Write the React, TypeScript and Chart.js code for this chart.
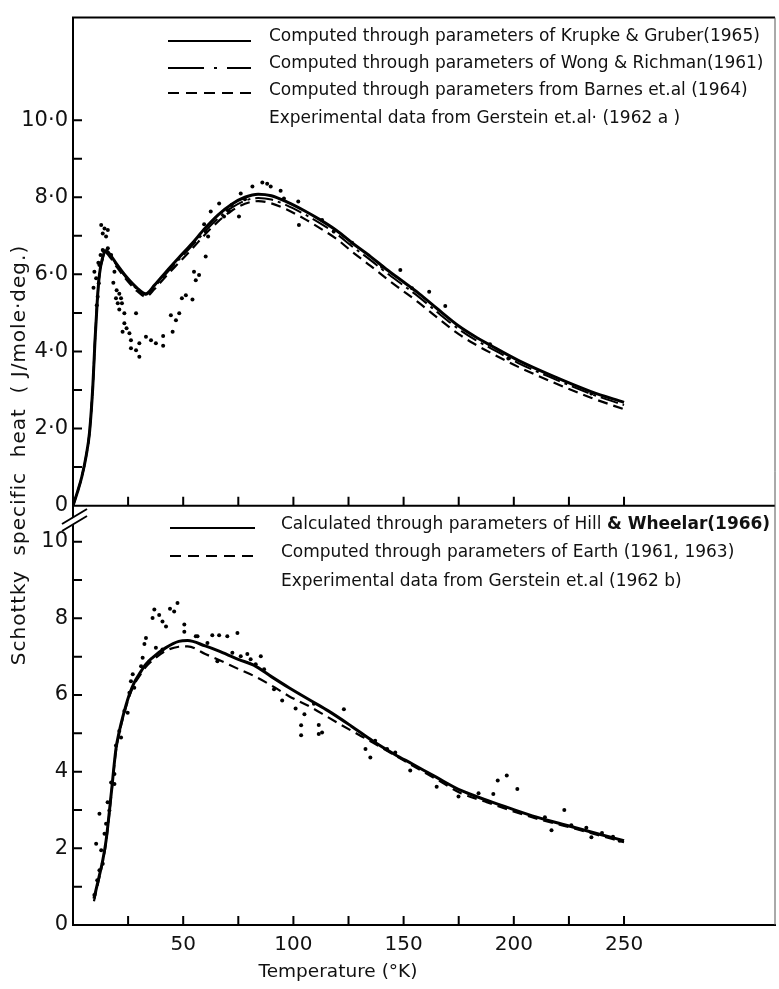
import React, { useEffect, useRef } from 'react';
import Chart from 'chart.js/auto';

// ---- Top panel (Gerstein 1962a fits) ----
const topCurveT = [0, 2, 4, 6, 7.5, 9, 10, 11, 12, 13.5, 15, 17, 20, 24, 29, 33, 37, 42, 48, 54, 60, 66, 72, 78, 84, 90, 97, 105, 112, 120, 127, 135, 142, 150, 157, 165, 175, 182, 190, 202, 217, 235, 250];
const krupkeGruber = [0, 0.35, 0.75, 1.3, 1.9, 3.1, 4.3, 5.3, 6.0, 6.45, 6.62, 6.5, 6.25, 5.95, 5.65, 5.5, 5.72, 6.05, 6.43, 6.8, 7.2, 7.55, 7.82, 8.0, 8.08, 8.04, 7.88, 7.65, 7.42, 7.12, 6.8, 6.46, 6.14, 5.8, 5.5, 5.12, 4.66, 4.4, 4.14, 3.77, 3.38, 2.96, 2.68];
const wongRichman = [0, 0.35, 0.75, 1.3, 1.9, 3.1, 4.3, 5.3, 6.0, 6.42, 6.58, 6.47, 6.22, 5.92, 5.62, 5.47, 5.68, 6.0, 6.38, 6.74, 7.12, 7.46, 7.73, 7.91, 7.98, 7.94, 7.79, 7.56, 7.33, 7.03, 6.71, 6.37, 6.05, 5.71, 5.41, 5.03, 4.58, 4.32, 4.07, 3.7, 3.32, 2.9, 2.61];
const barnes = [0, 0.35, 0.75, 1.3, 1.9, 3.1, 4.3, 5.3, 6.0, 6.4, 6.55, 6.43, 6.18, 5.88, 5.57, 5.42, 5.62, 5.94, 6.3, 6.66, 7.04, 7.38, 7.65, 7.83, 7.9, 7.84, 7.68, 7.44, 7.2, 6.9, 6.57, 6.22, 5.9, 5.56, 5.26, 4.89, 4.45, 4.2, 3.95, 3.6, 3.22, 2.8, 2.5];

const gerATemp = [9.3, 9.7, 10.5, 10.8, 11.2, 11.5, 11.7, 12, 12.5, 12.8, 13.5, 14.3, 15, 15.8, 13.5, 14, 15.8, 17.3, 18.8, 18.3, 19.8, 19.5, 21, 21.8, 20.3, 22.2, 21, 23.3, 23.3, 24.3, 22.5, 25.6, 26.3, 28.6, 26.3, 28.6, 30.1, 30.1, 33.1, 35.4, 37.6, 40.9, 40.9, 44.4, 45.2, 46.7, 48.2, 49.4, 51.2, 54.2, 54.9, 55.7, 57.2, 59.5, 60.2, 60.2, 61.3, 62.5, 66.3, 68.5, 70, 70.8, 72, 75.3, 76.1, 78, 81.4, 85.9, 88.1, 89.7, 94.2, 95.7, 102.5, 102.2, 113, 118.3, 126.6, 140.2, 148.5, 153.8, 161.6, 168.9, 189.2, 197.5, 235.2];
const gerAHeat = [5.65, 6.07, 5.9, 5.2, 5.42, 6.3, 5.77, 6.24, 6.5, 7.28, 7.06, 7.19, 6.98, 7.15, 6.63, 6.6, 6.68, 6.5, 6.07, 5.78, 5.59, 5.38, 5.5, 5.38, 5.25, 5.25, 5.09, 4.99, 4.73, 4.6, 4.51, 4.47, 4.29, 4.99, 4.08, 4.03, 4.21, 3.86, 4.38, 4.29, 4.21, 4.4, 4.15, 4.94, 4.51, 4.81, 4.99, 5.38, 5.46, 5.35, 6.07, 5.85, 5.98, 7.3, 6.46, 7.11, 6.98, 7.63, 7.84, 7.5, 7.67, 7.63, 7.8, 7.5, 8.1, 7.95, 8.28, 8.38, 8.35, 8.28, 8.17, 7.97, 7.28, 7.89, 7.41, 7.11, 6.82, 6.2, 6.11, 5.64, 5.55, 5.18, 4.19, 3.82, 2.91];

// ---- Bottom panel (Gerstein 1962b fits) ----
const botCurveT = [9.5, 12, 13.5, 15, 17.3, 19.5, 21, 22.5, 25.6, 28, 30, 33, 36, 42, 48, 52, 60, 66, 75, 82, 90, 98, 108, 116, 126, 136, 146, 154, 165, 176, 188, 199, 210, 222, 238, 250];
const hillWheelar = [0.69, 1.3, 1.69, 2.2, 3.4, 4.6, 5.05, 5.41, 6.02, 6.35, 6.54, 6.8, 6.97, 7.23, 7.4, 7.42, 7.28, 7.15, 6.93, 6.78, 6.48, 6.19, 5.85, 5.58, 5.2, 4.8, 4.45, 4.2, 3.85, 3.51, 3.25, 3.03, 2.82, 2.63, 2.38, 2.2];
const earth = [0.62, 1.25, 1.65, 2.15, 3.35, 4.55, 5.0, 5.36, 5.97, 6.3, 6.48, 6.73, 6.9, 7.15, 7.26, 7.27, 7.07, 6.92, 6.68, 6.5, 6.25, 5.97, 5.68, 5.41, 5.08, 4.76, 4.43, 4.16, 3.8, 3.44, 3.2, 2.98, 2.78, 2.6, 2.35, 2.16];

const gerBTemp = [9.7, 10.5, 11, 12, 12, 12.8, 13.5, 14.3, 15, 15.7, 16.5, 17.3, 18.8, 18.8, 19.5, 21, 21.8, 23.3, 24.8, 25.6, 26.3, 27.1, 27.8, 30.9, 31.6, 32.4, 33.1, 36.1, 36.9, 37.6, 39.1, 40.6, 40.6, 42.2, 44, 45.9, 47.4, 50.5, 50.5, 55.7, 56.5, 61, 63.2, 65.5, 66.3, 70, 72.3, 74.6, 76.1, 79.1, 80.6, 82.9, 85.2, 86.7, 91.2, 94.9, 101, 103.5, 103.5, 105, 109.3, 111.5, 111.5, 113, 122.9, 132.7, 134.9, 137.1, 142.5, 146.2, 153, 165, 174.9, 184, 190.7, 192.7, 196.8, 201.6, 214.1, 217.1, 222.9, 226.1, 232.9, 235.2, 240, 245, 248];
const gerBHeat = [0.78, 2.12, 1.17, 1.43, 2.9, 1.95, 1.6, 2.38, 2.64, 3.2, 2.99, 3.72, 3.94, 3.68, 4.68, 5.06, 4.89, 5.58, 5.54, 6.06, 6.36, 6.54, 6.19, 6.75, 6.97, 7.33, 7.49, 8.01, 8.23, 7.23, 8.09, 7.92, 7.19, 7.79, 8.25, 8.18, 8.4, 7.84, 7.65, 7.53, 7.53, 7.36, 7.56, 6.88, 7.56, 7.53, 7.1, 7.62, 7.01, 7.07, 6.93, 6.8, 7.01, 6.67, 6.15, 5.86, 5.65, 5.21, 4.95, 5.5, 5.77, 5.22, 4.98, 5.02, 5.63, 4.59, 4.37, 4.81, 4.59, 4.5, 4.03, 3.61, 3.35, 3.44, 3.42, 3.77, 3.9, 3.55, 2.81, 2.47, 3.0, 2.6, 2.54, 2.29, 2.4, 2.3, 2.2];

// ---- Axes ----
const xTickLabels = [50, 100, 150, 200, 250];
const xTickMarks = [25, 50, 75, 100, 125, 150, 175, 200, 225, 250];
const topTickLabels = [0, 2, 4, 6, 8, 10];
const botTickLabels = [0, 2, 4, 6, 8, 10];
const yTickMarks = [1, 2, 3, 4, 5, 6, 7, 8, 9, 10];

const topLegend = [
  'Computed through parameters of Krupke & Gruber(1965)',
  'Computed through parameters of Wong & Richman(1961)',
  'Computed through parameters from Barnes et.al (1964)',
  'Experimental data from Gerstein et.al· (1962 a )',
];
const botLegendA = 'Calculated through parameters of Hill ';
const botLegendABold = '& Wheelar(1966)';
const botLegend = [
  'Computed through parameters of Earth (1961, 1963)',
  'Experimental data from Gerstein et.al (1962 b)',
];
const yTitle = 'Schottky  specific  heat  ( J/mole·deg.)';
const xTitle = 'Temperature (°K)';

const pts = (xs: number[], ys: number[]) => xs.map((x, i) => ({ x, y: ys[i] }));
const FONT = '"DejaVu Sans", sans-serif';

const DOTDASH = [18, 5, 3, 5];
const DASH = [10, 6];

const decor = {
  id: 'decor',
  afterDraw(chart: any) {
    const ctx = chart.ctx as CanvasRenderingContext2D;
    const { left, right, top, bottom } = chart.chartArea;
    const xs = chart.scales.x;
    const yT = chart.scales.yTop;
    const yB = chart.scales.yBot;
    ctx.save();
    ctx.strokeStyle = '#000';
    ctx.fillStyle = '#000';
    ctx.lineCap = 'butt';
    // frame
    ctx.lineWidth = 2;
    ctx.beginPath();
    ctx.moveTo(left - 1, top);
    ctx.lineTo(right, top);
    ctx.moveTo(left, yT.bottom);
    ctx.lineTo(right, yT.bottom);
    ctx.stroke();
    ctx.lineWidth = 1;
    ctx.strokeStyle = '#555';
    ctx.beginPath();
    ctx.moveTo(right, top);
    ctx.lineTo(right, bottom);
    ctx.stroke();
    ctx.strokeStyle = '#000';
    // x tick marks (inward)
    ctx.lineWidth = 2;
    ctx.beginPath();
    for (const v of xTickMarks) {
      const px = xs.getPixelForValue(v);
      ctx.moveTo(px, yT.bottom);
      ctx.lineTo(px, yT.bottom - 9);
      ctx.moveTo(px, bottom);
      ctx.lineTo(px, bottom - 9);
    }
    // y tick marks (inward)
    for (const v of yTickMarks) {
      const pt = yT.getPixelForValue(v);
      ctx.moveTo(left, pt);
      ctx.lineTo(left + 9, pt);
      const pb = yB.getPixelForValue(v);
      ctx.moveTo(left, pb);
      ctx.lineTo(left + 9, pb);
    }
    ctx.stroke();
    // axis break mark
    ctx.fillStyle = '#fff';
    ctx.beginPath();
    ctx.moveTo(63, 524);
    ctx.lineTo(86, 510);
    ctx.lineTo(86, 517);
    ctx.lineTo(63, 531);
    ctx.closePath();
    ctx.fill();
    ctx.fillStyle = '#000';
    ctx.lineWidth = 2;
    ctx.beginPath();
    ctx.moveTo(62, 524);
    ctx.lineTo(87, 509);
    ctx.moveTo(62, 531);
    ctx.lineTo(87, 516);
    ctx.stroke();

    // legends
    const sample = (y: number, x1: number, x2: number, dash: number[]) => {
      ctx.setLineDash(dash);
      ctx.lineWidth = 2;
      ctx.beginPath();
      ctx.moveTo(x1, y);
      ctx.lineTo(x2, y);
      ctx.stroke();
      ctx.setLineDash([]);
    };
    ctx.font = `17px ${FONT}`;
    ctx.textBaseline = 'middle';
    ctx.textAlign = 'left';
    ctx.fillStyle = '#111';
    sample(41, 168, 251, []);
    sample(68, 168, 251, [36, 10, 3, 10]);
    sample(93, 168, 251, [11, 7]);
    const tRows = [37, 64, 91, 119];
    topLegend.forEach((t, i) => ctx.fillText(t, 269, tRows[i]));
    sample(528, 170, 255, []);
    sample(556, 170, 255, [11, 7]);
    ctx.fillText(botLegendA, 281, 525);
    const w = ctx.measureText(botLegendA).width;
    ctx.font = `bold 17px ${FONT}`;
    ctx.fillText(botLegendABold, 281 + w, 525);
    ctx.font = `17px ${FONT}`;
    ctx.fillText(botLegend[0], 281, 553);
    ctx.fillText(botLegend[1], 281, 582);

    // axis titles
    ctx.font = `18.5px ${FONT}`;
    ctx.textAlign = 'center';
    ctx.fillText(xTitle, 338, 972);
    ctx.translate(20, 455);
    ctx.rotate(-Math.PI / 2);
    ctx.font = `20px ${FONT}`;
    (ctx as any).letterSpacing = '1px';
    ctx.fillText(yTitle, 0, 0);
    ctx.restore();
  },
};

export default function App() {
  const ref = useRef<HTMLCanvasElement | null>(null);
  useEffect(() => {
    if (!ref.current) return;
    const lineDs = (label: string, xs: number[], ys: number[], axis: string, dash: number[], width: number) => ({
      label,
      data: pts(xs, ys),
      yAxisID: axis,
      showLine: true,
      borderColor: '#000',
      borderWidth: width,
      borderDash: dash,
      pointRadius: 0,
      cubicInterpolationMode: 'monotone' as const,
      fill: false,
    });
    const dotDs = (label: string, xs: number[], ys: number[], axis: string) => ({
      label,
      data: pts(xs, ys),
      yAxisID: axis,
      showLine: false,
      pointRadius: 2,
      pointBorderWidth: 0,
      pointBackgroundColor: '#000',
      borderColor: '#000',
    });
    const yLabelFont = { family: FONT, size: 21 };
    const chart = new Chart(ref.current, {
      type: 'scatter',
      data: {
        datasets: [
          lineDs(topLegend[0], topCurveT, krupkeGruber, 'yTop', [], 3),
          lineDs(topLegend[1], topCurveT, wongRichman, 'yTop', DOTDASH, 2),
          lineDs(topLegend[2], topCurveT, barnes, 'yTop', DASH, 2.2),
          dotDs(topLegend[3], gerATemp, gerAHeat, 'yTop'),
          lineDs('Hill & Wheelar', botCurveT, hillWheelar, 'yBot', [], 3),
          lineDs(botLegend[0], botCurveT, earth, 'yBot', DASH, 2.2),
          dotDs(botLegend[1], gerBTemp, gerBHeat, 'yBot'),
        ],
      },
      options: {
        responsive: false,
        animation: false,
        devicePixelRatio: 1,
        layout: { padding: { left: 0, top: 14, right: 2, bottom: 0 } },
        plugins: { legend: { display: false }, tooltip: { enabled: false } },
        scales: {
          x: {
            type: 'linear',
            min: 0,
            max: 318.5,
            afterBuildTicks: (s: any) => { s.ticks = xTickLabels.map((v) => ({ value: v })); },
            afterFit: (s: any) => { s.height = 64; },
            ticks: { font: { family: FONT, size: 20 }, color: '#111', padding: 8, maxRotation: 0, autoSkip: false },
            grid: { display: false, drawTicks: false },
            border: { display: true, color: '#000', width: 2 },
          },
          yTop: {
            type: 'linear',
            position: 'left',
            stack: 'panels',
            stackWeight: 490,
            weight: 1,
            min: 0,
            max: 12.66,
            afterBuildTicks: (s: any) => { s.ticks = topTickLabels.map((v) => ({ value: v })); },
            afterFit: (s: any) => { s.width = 73; },
            ticks: {
              font: yLabelFont,
              color: '#111',
              padding: 5,
              autoSkip: false,
              callback: (v: any) => (v === 0 ? '0' : Number(v).toFixed(1).replace('.', '·')),
            },
            grid: { display: false, drawTicks: false },
            border: { display: true, color: '#000', width: 2 },
          },
          yBot: {
            type: 'linear',
            position: 'left',
            stack: 'panels',
            stackWeight: 421,
            weight: 0,
            min: 0,
            max: 10.94,
            afterBuildTicks: (s: any) => { s.ticks = botTickLabels.map((v) => ({ value: v })); },
            afterFit: (s: any) => { s.width = 73; },
            ticks: { font: yLabelFont, color: '#111', padding: 5, autoSkip: false, callback: (v: any) => String(v) },
            grid: { display: false, drawTicks: false },
            border: { display: true, color: '#000', width: 2 },
          },
        },
      } as any,
      plugins: [decor],
    });
    return () => chart.destroy();
  }, []);
  return (
    <div style={{ position: 'absolute', left: 0, top: 0, width: 779, height: 989, background: '#fff' }}>
      <canvas ref={ref} width={779} height={989} style={{ display: 'block', width: 779, height: 989 }} />
    </div>
  );
}
